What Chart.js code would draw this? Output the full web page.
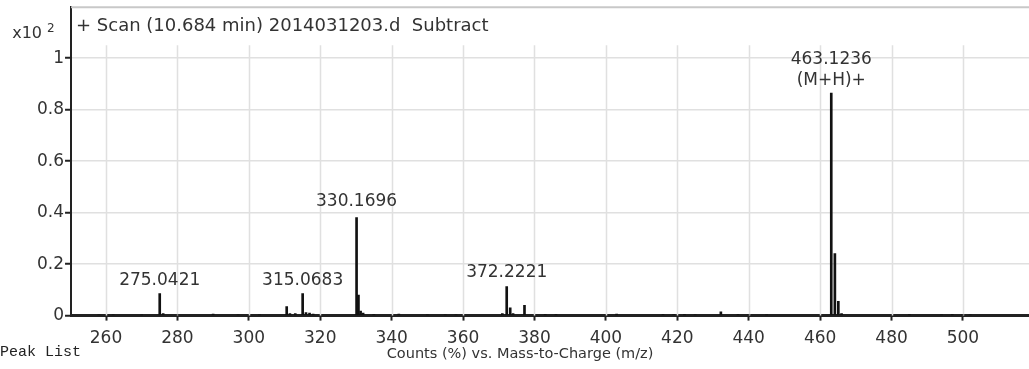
<!doctype html>
<html>

<head>
    <title>Mass Spectrum</title>
    <script src="https://cdn.jsdelivr.net/npm/chart.js@4.4.1/dist/chart.umd.min.js"></script>
    <style>
        body {
            margin: 0;
            background: #fff;
            overflow: hidden;
        }

        #container {
            position: relative;
            width: 1029px;
            height: 369px;
            overflow: hidden;
        }

        #chartwrap {
            position: absolute;
            left: 0;
            top: -4px;
            width: 1029px;
            height: 373px;
        }

        #peaklist {
            position: absolute;
            left: 0;
            top: 344px;
            font-family: "Liberation Mono", monospace;
            font-size: 15px;
            color: #222;
        }
    </style>
</head>

<body>
    <div id="container">
        <div id="chartwrap"><canvas id="canvas"></canvas></div>
        <div id="peaklist">Peak List</div>
    </div>
    <script>
        // m/z of each stick and its relative abundance (x10^2 counts %)
        var mzValues = [258, 262, 270, 275.04, 276, 280, 290, 297, 303, 310.6, 311.5, 313,
            315.07, 316, 317, 318, 330.17, 330.7, 331.3, 332, 335, 342, 350, 355, 358,
            371, 372.22, 373.2, 374, 377.2, 383, 386, 403, 416, 419, 422, 425, 432.2, 437,
            440, 445, 463.12, 464.13, 465.1, 466, 485, 494, 497, 500, 502];
        var abundances = [0.003, 0.003, 0.002, 0.086, 0.008, 0.003, 0.006, 0.003, 0.003, 0.035, 0.008, 0.008,
            0.086, 0.012, 0.01, 0.006, 0.381, 0.08, 0.018, 0.01, 0.004, 0.006, 0.003, 0.003, 0.003,
            0.008, 0.113, 0.03, 0.008, 0.04, 0.004, 0.004, 0.006, 0.004, 0.004, 0.004, 0.003, 0.015, 0.004,
            0.003, 0.003, 0.864, 0.241, 0.055, 0.008, 0.004, 0.003, 0.004, 0.003, 0.003];

        // annotated peaks: m/z, height the label sits on, text lines
        var labelMz = [275.04, 315.07, 330.17, 372.22, 463.12];
        var labelY = [0.086, 0.086, 0.395, 0.118, 0.864];
        var labelText = [["275.0421"], ["315.0683"], ["330.1696"], ["372.2221"], ["463.1236", "(M+H)+"]];

        var xTicks = [260, 280, 300, 320, 340, 360, 380, 400, 420, 440, 460, 480, 500];
        var yTicks = [0, 0.2, 0.4, 0.6, 0.8, 1];

        var titleText = '+ Scan (10.684 min) 2014031203.d  Subtract';
        var xTitle = 'Counts (%) vs. Mass-to-Charge (m/z)';

        var FONT = '"DejaVu Sans", sans-serif';

        var points = mzValues.map(function (mz, i) {
            return { x: mz, y: abundances[i] };
        });

        var spectrumDecor = {
            id: 'spectrumDecor',
            beforeDatasetsDraw: function (chart) {
                var ctx = chart.ctx;
                var area = chart.chartArea;
                var xs = chart.scales.x;
                var ys = chart.scales.y;
                ctx.save();
                // vertical grid lines stop below the title strip
                ctx.strokeStyle = '#e0e0e0';
                ctx.lineWidth = 1.5;
                var gridTop = ys.getPixelForValue(1.05);
                xTicks.forEach(function (v) {
                    var px = Math.round(xs.getPixelForValue(v)) + 0.5;
                    ctx.beginPath();
                    ctx.moveTo(px, gridTop);
                    ctx.lineTo(px, area.bottom);
                    ctx.stroke();
                });
                // top frame line
                ctx.strokeStyle = '#c8c8c8';
                ctx.lineWidth = 2;
                ctx.beginPath();
                ctx.moveTo(area.left, area.top);
                ctx.lineTo(area.right, area.top);
                ctx.stroke();
                ctx.restore();
            },
            afterDatasetsDraw: function (chart) {
                var ctx = chart.ctx;
                var area = chart.chartArea;
                var xs = chart.scales.x;
                var ys = chart.scales.y;
                ctx.save();
                ctx.fillStyle = '#333';
                ctx.font = '18px ' + FONT;
                // scan title
                ctx.textAlign = 'left';
                ctx.textBaseline = 'middle';
                ctx.fillText(titleText, area.left + 5, area.top + 19);
                // x10^2 multiplier
                ctx.font = '16px ' + FONT;
                ctx.textAlign = 'right';
                ctx.fillText('x10', area.left - 29, area.top + 27);
                ctx.font = '12px ' + FONT;
                ctx.textAlign = 'left';
                ctx.fillText('2', area.left - 24, area.top + 22);
                // x axis title, sits a little left of centre as in the original
                ctx.font = '14.5px ' + FONT;
                ctx.textAlign = 'center';
                ctx.fillText(xTitle, (area.left + area.right) / 2 - 30, area.bottom + 39);
                // peak annotations
                ctx.font = '17px ' + FONT;
                ctx.textAlign = 'center';
                ctx.textBaseline = 'bottom';
                labelMz.forEach(function (mz, i) {
                    var px = xs.getPixelForValue(mz);
                    var py = ys.getPixelForValue(labelY[i]) - 4;
                    var lines = labelText[i];
                    for (var k = lines.length - 1; k >= 0; k--) {
                        ctx.fillText(lines[k], px, py);
                        py -= 21;
                    }
                });
                ctx.restore();
            }
        };

        window.onload = function () {
            var ctx = document.getElementById('canvas').getContext('2d');
            window.mySpectrum = new Chart(ctx, {
                type: 'bar',
                data: {
                    datasets: [{
                        label: 'Scan',
                        data: points,
                        backgroundColor: '#111',
                        borderWidth: 0,
                        barThickness: 2
                    }]
                },
                plugins: [spectrumDecor],
                options: {
                    responsive: true,
                    maintainAspectRatio: false,
                    animation: false,
                    layout: {
                        padding: { left: 36, right: 0, top: 0, bottom: 12 }
                    },
                    plugins: {
                        legend: { display: false },
                        tooltip: { enabled: false }
                    },
                    scales: {
                        x: {
                            type: 'linear',
                            min: 250.2,
                            max: 518.5,
                            offset: false,
                            afterBuildTicks: function (scale) {
                                scale.ticks = xTicks.map(function (v) { return { value: v }; });
                            },
                            border: { display: true, color: '#222', width: 3 },
                            grid: {
                                offset: false,
                                drawOnChartArea: false,
                                tickColor: '#222',
                                tickLength: 5,
                                tickWidth: 2
                            },
                            ticks: {
                                color: '#333',
                                font: { family: FONT, size: 17 },
                                padding: 8,
                                maxRotation: 0,
                                autoSkip: false
                            }
                        },
                        y: {
                            min: 0,
                            max: 1.198,
                            afterBuildTicks: function (scale) {
                                scale.ticks = yTicks.map(function (v) { return { value: v }; });
                            },
                            border: { display: true, color: '#222', width: 2 },
                            grid: {
                                color: '#e0e0e0',
                                lineWidth: 1.5,
                                tickColor: '#222',
                                tickLength: 6,
                                tickWidth: 2
                            },
                            ticks: {
                                color: '#333',
                                font: { family: FONT, size: 17 },
                                padding: 1,
                                callback: function (v) { return String(Math.round(v * 10) / 10); }
                            }
                        }
                    }
                }
            });
        };
    </script>
</body>

</html>
